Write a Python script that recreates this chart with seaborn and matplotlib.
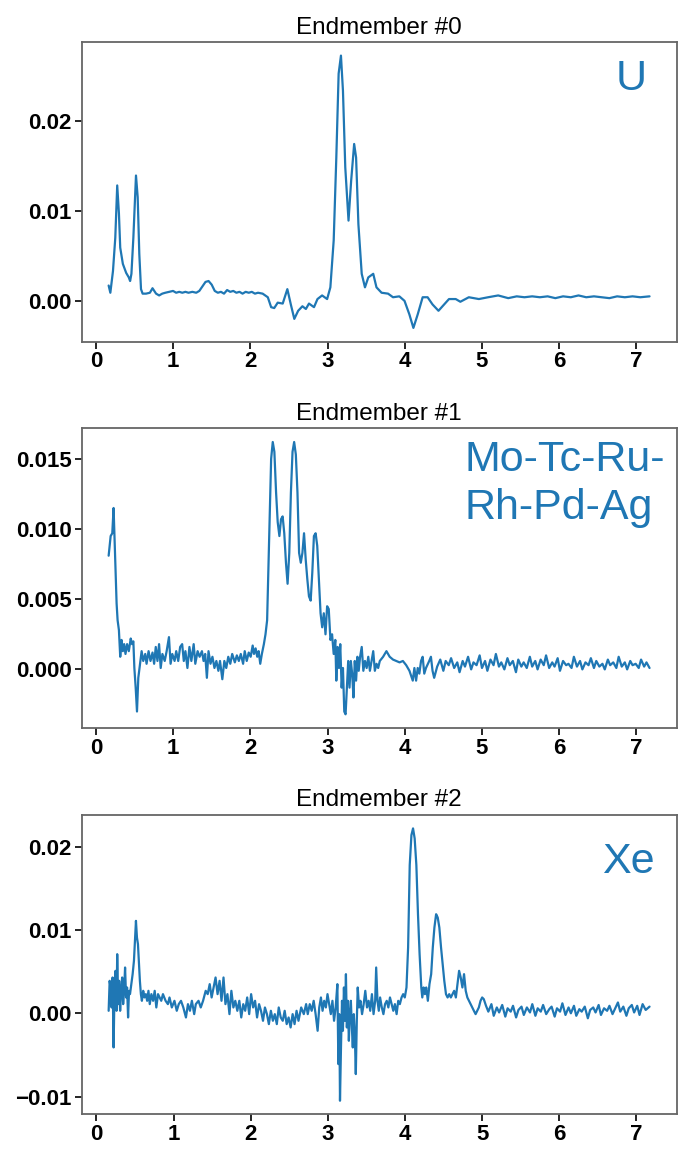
import matplotlib
matplotlib.use("Agg")
import matplotlib.pyplot as plt
import seaborn as sns

# --- values ---
titles = ["Endmember #0", "Endmember #1", "Endmember #2"]
element_labels = ["U", "Mo-Tc-Ru-\nRh-Pd-Ag", "Xe"]

em0_energy = [
    0.166, 0.188, 0.222, 0.252, 0.277, 0.299, 0.316, 0.350, 0.393, 0.427,
    0.444, 0.461, 0.486, 0.520, 0.542, 0.563, 0.585, 0.606, 0.650, 0.700,
    0.734, 0.780, 0.820, 0.860, 0.900, 0.950, 1.000, 1.040, 1.080, 1.120,
    1.160, 1.200, 1.250, 1.300, 1.340, 1.380, 1.420, 1.460, 1.500, 1.540,
    1.580, 1.620, 1.660, 1.700, 1.740, 1.780, 1.820, 1.860, 1.900, 1.940,
    1.980, 2.020, 2.060, 2.100, 2.160, 2.227, 2.270, 2.310, 2.355, 2.420,
    2.480, 2.525, 2.570, 2.620, 2.675, 2.720, 2.760, 2.825, 2.870, 2.930,
    2.995, 3.037, 3.080, 3.114, 3.144, 3.174, 3.200, 3.230, 3.272, 3.306,
    3.345, 3.370, 3.400, 3.443, 3.485, 3.528, 3.592, 3.634, 3.700, 3.784,
    3.848, 3.930, 3.997, 4.060, 4.112, 4.168, 4.232, 4.296, 4.360, 4.437,
    4.510, 4.573, 4.660, 4.720, 4.830, 4.960, 5.080, 5.210, 5.340, 5.450,
    5.550, 5.650, 5.750, 5.850, 5.950, 6.050, 6.150, 6.250, 6.350, 6.450,
    6.550, 6.650, 6.750, 6.850, 6.950, 7.050, 7.170,
]
em0_signal = [
    0.0017, 0.0009, 0.0033, 0.0070, 0.0128, 0.0097, 0.0059, 0.0041, 0.0031, 0.0026,
    0.0022, 0.0030, 0.0070, 0.0139, 0.0115, 0.0052, 0.0013, 0.0008, 0.0008, 0.0009,
    0.0014, 0.0008, 0.0006, 0.0008, 0.0009, 0.0010, 0.0011, 0.0009, 0.0010, 0.0009,
    0.0010, 0.0009, 0.0010, 0.0009, 0.0011, 0.0016, 0.0021, 0.0022, 0.0018, 0.0011,
    0.0009, 0.0010, 0.0008, 0.0012, 0.0010, 0.0011, 0.0009, 0.0010, 0.0008, 0.0010,
    0.0009, 0.0010, 0.0008, 0.0009, 0.0008, 0.0004, -0.0007, -0.0008, -0.0002, -0.0003,
    0.0013, -0.0004, -0.0020, -0.0011, -0.0006, -0.0009, -0.0003, -0.0007, 0.0002, 0.0006,
    0.0002, 0.0015, 0.0067, 0.0159, 0.0252, 0.0272, 0.0233, 0.0148, 0.0089, 0.0133,
    0.0174, 0.0159, 0.0085, 0.0030, 0.0015, 0.0026, 0.0030, 0.0015, 0.0009, 0.0008,
    0.0004, 0.0005, 0.0000, -0.0015, -0.0030, -0.0015, 0.0004, 0.0004, -0.0004, -0.0011,
    -0.0004, 0.0002, 0.0002, -0.0001, 0.0004, 0.0002, 0.0004, 0.0006, 0.0003, 0.0005,
    0.0004, 0.0005, 0.0004, 0.0005, 0.0003, 0.0005, 0.0004, 0.0006, 0.0004, 0.0005,
    0.0004, 0.0003, 0.0005, 0.0004, 0.0005, 0.0004, 0.0005,
]

em1_energy = [
    0.166, 0.192, 0.213, 0.230, 0.243, 0.256, 0.269, 0.282, 0.299, 0.316,
    0.333, 0.350, 0.367, 0.384, 0.405, 0.427, 0.452, 0.469, 0.486, 0.499,
    0.516, 0.533, 0.550, 0.572, 0.593, 0.614, 0.640, 0.657, 0.683, 0.708,
    0.734, 0.755, 0.776, 0.798, 0.819, 0.840, 0.862, 0.892, 0.917, 0.947,
    0.968, 0.990, 1.020, 1.041, 1.067, 1.092, 1.118, 1.139, 1.160, 1.186,
    1.212, 1.237, 1.267, 1.288, 1.318, 1.344, 1.374, 1.395, 1.416, 1.438,
    1.459, 1.485, 1.510, 1.536, 1.561, 1.587, 1.608, 1.638, 1.664, 1.689,
    1.715, 1.741, 1.766, 1.800, 1.826, 1.852, 1.877, 1.907, 1.928, 1.954,
    1.980, 2.005, 2.031, 2.048, 2.069, 2.090, 2.108, 2.129, 2.150, 2.176,
    2.197, 2.218, 2.240, 2.261,
    2.270, 2.291, 2.312, 2.334, 2.355, 2.377, 2.398, 2.419, 2.440, 2.462,
    2.483, 2.505, 2.526, 2.547, 2.568, 2.590, 2.611, 2.632, 2.654, 2.675,
    2.696, 2.718, 2.739, 2.760, 2.782, 2.803, 2.824, 2.846, 2.867, 2.888,
    2.910, 2.931, 2.952, 2.974, 2.995, 3.016, 3.038, 3.059, 3.080, 3.101,
    3.114, 3.131, 3.148, 3.165, 3.183, 3.200, 3.217, 3.234, 3.251, 3.268,
    3.285, 3.302, 3.319, 3.336, 3.353, 3.370, 3.387, 3.404, 3.422, 3.443,
    3.464, 3.485, 3.507, 3.528, 3.549, 3.571, 3.592, 3.613, 3.635, 3.656,
    3.677, 3.720, 3.763, 3.784, 3.805, 3.848, 3.891, 3.933, 3.976, 4.019,
    4.061, 4.104, 4.125, 4.147, 4.168, 4.189, 4.211, 4.232, 4.253, 4.275,
    4.317, 4.339, 4.360, 4.381,
    4.42, 4.46, 4.50, 4.53, 4.57, 4.60, 4.64, 4.68, 4.71, 4.75,
    4.78, 4.82, 4.86, 4.89, 4.93, 4.97, 5.00, 5.04, 5.07, 5.11,
    5.15, 5.18, 5.22, 5.25, 5.29, 5.33, 5.36, 5.40, 5.44, 5.47,
    5.51, 5.54, 5.58, 5.62, 5.65, 5.69, 5.72, 5.76, 5.80, 5.83,
    5.87, 5.91, 5.94, 5.98, 6.01, 6.05, 6.09, 6.12, 6.16, 6.19,
    6.23, 6.27, 6.30, 6.34, 6.38, 6.41, 6.45, 6.48, 6.52, 6.56,
    6.59, 6.63, 6.66, 6.70, 6.74, 6.77, 6.81, 6.85, 6.88, 6.92,
    6.95, 6.99, 7.03, 7.06, 7.10, 7.13, 7.17,
]
em1_signal = [
    0.0081, 0.0095, 0.0097, 0.0115, 0.0093, 0.0071, 0.0047, 0.0035, 0.0028, 0.0009,
    0.0021, 0.0013, 0.0018, 0.0011, 0.0018, 0.0013, 0.0022, 0.0018, 0.0020, 0.0001,
    -0.0013, -0.0030, -0.0006, 0.0004, 0.0013, 0.0006, 0.0011, 0.0004, 0.0013, 0.0006,
    0.0012, 0.0004, 0.0016, 0.0006, 0.0018, 0.0001, 0.0011, 0.0006, 0.0013, 0.0023,
    0.0004, 0.0011, 0.0006, 0.0013, 0.0006, 0.0016, 0.0018, 0.0006, 0.0013, 0.0001,
    0.0016, 0.0006, 0.0018, 0.0004, 0.0013, 0.0009, 0.0013, 0.0006, 0.0011, -0.0006,
    0.0013, 0.0004, 0.0009, 0.0001, 0.0006, -0.0001, 0.0006, -0.0007, 0.0006, 0.0001,
    0.0009, 0.0004, 0.0011, 0.0005, 0.0010, 0.0006, 0.0011, 0.0004, 0.0013, 0.0006,
    0.0012, 0.0009, 0.0017, 0.0011, 0.0015, 0.0009, 0.0013, 0.0004, 0.0011, 0.0018,
    0.0025, 0.0035, 0.0083, 0.0131,
    0.0150, 0.0162, 0.0155, 0.0126, 0.0105, 0.0095, 0.0107, 0.0109, 0.0097, 0.0076,
    0.0061, 0.0083, 0.0126, 0.0155, 0.0162, 0.0153, 0.0126, 0.0083, 0.0076, 0.0083,
    0.0097, 0.0078, 0.0064, 0.0052, 0.0049, 0.0069, 0.0095, 0.0097, 0.0088, 0.0064,
    0.0040, 0.0030, 0.0040, 0.0025, 0.0045, 0.0043, 0.0021, 0.0025, 0.0011, 0.0021,
    -0.0008, 0.0016, 0.0001, 0.0018, -0.0013, 0.0001, -0.0030, -0.0032, -0.0013, 0.0006,
    -0.0013, 0.0006, -0.0003, -0.0020, 0.0006, -0.0008, 0.0009, -0.0001, 0.0009, 0.0016,
    -0.0001, 0.0006, 0.0001, 0.0009, -0.0001, 0.0006, 0.0013, -0.0001, 0.0004, 0.0001,
    0.0006, 0.0009, 0.0013, 0.0011, 0.0009, 0.0007, 0.0006, 0.0005, 0.0006, 0.0003,
    -0.0001, -0.0008, 0.0001, -0.0008, 0.0001, -0.0003, 0.0006, 0.0009, -0.0003, 0.0001,
    0.0006, 0.0009, -0.0001, -0.0006,
    0.0002, 0.0007, -0.0001, 0.0006, 0.0003, 0.0008, 0.0001, 0.0005, -0.0002, 0.0006,
    0.0002, 0.0009, 0.0000, 0.0005, 0.0003, 0.0010, 0.0001, 0.0006, -0.0001, 0.0007,
    0.0003, 0.0011, 0.0002, 0.0005, 0.0000, 0.0008, 0.0003, 0.0006, -0.0002, 0.0007,
    0.0002, 0.0005, 0.0001, 0.0009, 0.0002, 0.0006, 0.0000, 0.0007, 0.0003, 0.0010,
    0.0001, 0.0005, 0.0002, 0.0008, -0.0001, 0.0006, 0.0003, 0.0004, 0.0001, 0.0009,
    0.0002, 0.0006, 0.0000, 0.0005, 0.0003, 0.0008, 0.0001, 0.0006, 0.0002, 0.0004,
    0.0000, 0.0007, 0.0003, 0.0005, 0.0001, 0.0009, 0.0002, 0.0005, 0.0000, 0.0006,
    0.0003, 0.0004, 0.0001, 0.0007, 0.0002, 0.0005, 0.0001,
]

em2_energy = [
    0.158, 0.171, 0.183, 0.196, 0.209, 0.222, 0.235, 0.247, 0.260, 0.269,
    0.282, 0.294, 0.307, 0.320, 0.333, 0.346, 0.358, 0.371, 0.384, 0.397,
    0.410, 0.422, 0.435, 0.452, 0.469, 0.486, 0.499, 0.512, 0.525, 0.538,
    0.550, 0.563, 0.576, 0.589, 0.606, 0.623, 0.640, 0.657, 0.674, 0.691,
    0.712, 0.734, 0.755, 0.776, 0.798, 0.819, 0.840, 0.862, 0.896, 0.926,
    0.947, 0.977, 1.011, 1.041, 1.067, 1.096, 1.126, 1.160, 1.186, 1.212,
    1.237, 1.267, 1.288, 1.323, 1.352, 1.382, 1.416, 1.442, 1.468, 1.493,
    1.519, 1.544, 1.570, 1.596, 1.621, 1.647, 1.672, 1.698, 1.724, 1.749,
    1.775, 1.800, 1.826, 1.852, 1.877, 1.903, 1.928, 1.954, 1.980, 2.005,
    2.031, 2.056, 2.082, 2.108, 2.133, 2.159, 2.184, 2.210, 2.235, 2.261,
    2.287, 2.312, 2.338, 2.363, 2.389, 2.415, 2.440, 2.466, 2.491, 2.517,
    2.543, 2.568, 2.594, 2.619, 2.654, 2.688, 2.718,
    2.739, 2.765, 2.790, 2.816, 2.841, 2.867, 2.888, 2.910, 2.931, 2.952,
    2.974, 2.995, 3.016, 3.038, 3.059, 3.080, 3.101, 3.123, 3.136, 3.148,
    3.157, 3.170, 3.183, 3.195, 3.208, 3.221, 3.234, 3.246, 3.259, 3.272,
    3.285, 3.298, 3.311, 3.323, 3.336, 3.349, 3.362, 3.375, 3.387, 3.404,
    3.422, 3.443, 3.464, 3.485, 3.507, 3.528, 3.549, 3.571, 3.592, 3.613,
    3.626, 3.643, 3.660, 3.677, 3.699, 3.720, 3.741, 3.763, 3.784, 3.805,
    3.827, 3.848, 3.869, 3.891, 3.912, 3.933, 3.955, 3.976, 3.997, 4.019,
    4.040, 4.061, 4.083, 4.104, 4.125, 4.147, 4.168, 4.189, 4.211, 4.224,
    4.241, 4.258, 4.275, 4.296, 4.317, 4.339, 4.360, 4.381, 4.403, 4.424,
    4.445, 4.467, 4.488, 4.509, 4.531, 4.552, 4.573, 4.594, 4.616, 4.637,
    4.659, 4.680, 4.701, 4.722, 4.744, 4.765, 4.787, 4.808, 4.829, 4.851,
    4.872, 4.893, 4.915, 4.936, 4.957, 4.979, 5.000, 5.021,
    5.05, 5.08, 5.12, 5.15, 5.19, 5.22, 5.26, 5.30, 5.33, 5.37,
    5.40, 5.44, 5.47, 5.51, 5.54, 5.58, 5.62, 5.65, 5.69, 5.72,
    5.76, 5.79, 5.83, 5.87, 5.90, 5.94, 5.97, 6.01, 6.04, 6.08,
    6.12, 6.15, 6.19, 6.22, 6.26, 6.29, 6.33, 6.37, 6.40, 6.44,
    6.47, 6.51, 6.54, 6.58, 6.62, 6.65, 6.69, 6.72, 6.76, 6.79,
    6.83, 6.87, 6.90, 6.94, 6.97, 7.01, 7.04, 7.08, 7.12, 7.17,
]
em2_signal = [
    0.0003, 0.0039, 0.0031, 0.0007, 0.0043, -0.0041, 0.0031, 0.0051, 0.0003, 0.0071,
    0.0011, 0.0039, 0.0003, 0.0027, 0.0043, 0.0011, 0.0027, 0.0055, 0.0019, 0.0031,
    -0.0005, 0.0027, 0.0023, 0.0035, 0.0047, 0.0063, 0.0087, 0.0111, 0.0091, 0.0083,
    0.0063, 0.0039, 0.0023, 0.0015, 0.0027, 0.0019, 0.0023, 0.0015, 0.0027, 0.0011,
    0.0023, 0.0015, 0.0027, 0.0007, 0.0023, 0.0019, 0.0015, 0.0023, 0.0015, 0.0011,
    0.0019, 0.0007, 0.0015, 0.0003, 0.0011, 0.0015, 0.0007, -0.0005, 0.0011, 0.0003,
    0.0015, -0.0001, 0.0011, 0.0015, 0.0007, 0.0015, 0.0027, 0.0023, 0.0035, 0.0019,
    0.0031, 0.0043, 0.0023, 0.0039, 0.0015, 0.0043, 0.0011, 0.0023, -0.0001, 0.0027,
    0.0007, 0.0015, 0.0003, 0.0015, -0.0005, 0.0011, 0.0003, 0.0019, -0.0001, 0.0023,
    0.0007, 0.0015, -0.0005, 0.0011, 0.0003, -0.0009, 0.0007, -0.0001, -0.0013, 0.0003,
    -0.0009, -0.0001, -0.0013, 0.0007, -0.0005, -0.0009, 0.0003, -0.0013, -0.0005, -0.0017,
    -0.0001, -0.0013, 0.0003, -0.0009, 0.0007, -0.0001, 0.0011,
    -0.0001, 0.0011, 0.0003, 0.0015, -0.0001, -0.0021, 0.0007, 0.0019, 0.0003, 0.0015,
    0.0007, 0.0023, 0.0011, -0.0001, 0.0015, -0.0009, 0.0007, 0.0035, -0.0061, -0.0001,
    -0.0105, -0.0041, 0.0015, -0.0021, 0.0031, -0.0009, 0.0047, -0.0017, 0.0015, -0.0033,
    -0.0001, 0.0015, -0.0017, -0.0041, -0.0001, -0.0025, -0.0073, -0.0009, 0.0031, 0.0007,
    0.0015, -0.0001, 0.0011, 0.0027, 0.0007, 0.0015, 0.0003, 0.0023, -0.0001, 0.0015,
    0.0055, 0.0015, 0.0003, 0.0019, 0.0007, -0.0001, 0.0011, 0.0015, 0.0007, 0.0019,
    0.0011, 0.0003, 0.0011, -0.0001, 0.0015, 0.0011, 0.0019, 0.0023, 0.0019, 0.0031,
    0.0079, 0.0178, 0.0214, 0.0222, 0.0210, 0.0178, 0.0119, 0.0071, 0.0031, 0.0019,
    0.0031, 0.0023, 0.0031, 0.0015, 0.0035, 0.0047, 0.0079, 0.0103, 0.0119, 0.0115,
    0.0103, 0.0079, 0.0059, 0.0039, 0.0023, 0.0019, 0.0023, 0.0019, 0.0023, 0.0027,
    0.0019, 0.0035, 0.0051, 0.0043, 0.0031, 0.0047, 0.0027, 0.0019, 0.0015, 0.0011,
    0.0007, 0.0003, -0.0001, 0.0003, 0.0007, 0.0015, 0.0019, 0.0017,
    0.0009, 0.0002, 0.0011, -0.0003, 0.0007, 0.0001, 0.0010, -0.0004, 0.0006, 0.0002,
    0.0009, -0.0005, 0.0004, 0.0008, -0.0002, 0.0007, 0.0001, 0.0011, -0.0003, 0.0006,
    0.0002, 0.0010, -0.0001, 0.0005, 0.0008, -0.0004, 0.0006, 0.0002, 0.0012, -0.0002,
    0.0007, 0.0000, 0.0009, -0.0003, 0.0005, 0.0002, 0.0008, -0.0006, 0.0004, 0.0007,
    0.0001, 0.0010, -0.0002, 0.0006, 0.0003, 0.0009, -0.0001, 0.0005, 0.0013, 0.0002,
    0.0008, -0.0003, 0.0006, 0.0010, 0.0001, 0.0009, -0.0002, 0.0011, 0.0004, 0.0008,
]

BLUE = "#1f77b4"

sns.set_style("ticks")
plt.rcParams['font.family'] = ['Liberation Sans', 'DejaVu Sans']
plt.rcParams['font.weight'] = 'bold'
plt.rcParams['text.color'] = 'black'
plt.rcParams['xtick.color'] = 'black'
plt.rcParams['ytick.color'] = 'black'

fig, axes = plt.subplots(3, 1, figsize=(6.8, 11.5), dpi=100)
fig.subplots_adjust(left=0.12, right=0.995, top=0.9635, bottom=0.031, hspace=0.29)

series = [(em0_energy, em0_signal), (em1_energy, em1_signal), (em2_energy, em2_signal)]
# label placement in axes fraction: (x, y, ha, va)
label_pos = [(0.95, 0.84, 'right', 'baseline'),
             (0.644, 0.96, 'left', 'top'),
             (0.963, 0.807, 'right', 'baseline')]

for ax, (xs, ys), title, lab, (lx, ly, ha, va) in zip(axes, series, titles, element_labels, label_pos):
    sns.lineplot(x=xs, y=ys, ax=ax, color=BLUE, linewidth=1.6, estimator=None, sort=False)
    ax.set_title(title, fontsize=17.5, fontweight='normal', color='black')
    ax.set_xlabel('')
    ax.set_ylabel('')
    ax.set_xticks(range(8))
    ax.tick_params(labelsize=16, length=5, width=1.2, pad=2)
    for sp in ax.spines.values():
        sp.set_color('0.4')
        sp.set_linewidth(1.3)
    ax.text(lx, ly, lab, transform=ax.transAxes, ha=ha, va=va,
            fontsize=31, fontweight='normal', color=BLUE, linespacing=1.25)

plt.savefig("out.png", dpi=100)
